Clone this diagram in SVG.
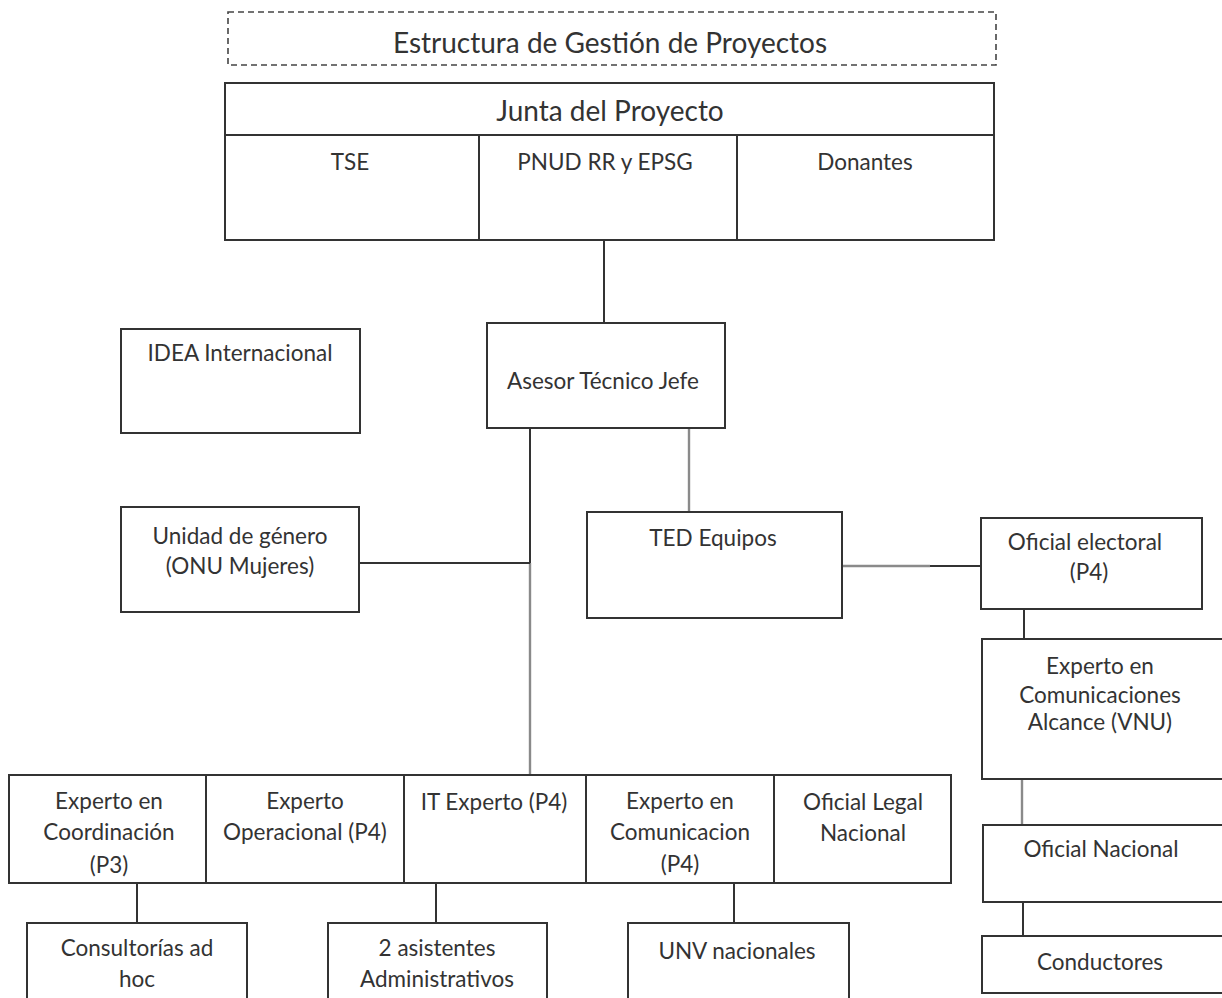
<svg xmlns="http://www.w3.org/2000/svg" width="1222" height="998" viewBox="0 0 1222 998">
<style>
.box{fill:#fff;stroke:#333;stroke-width:2}
.dash{fill:none;stroke:#444;stroke-width:1.6;stroke-dasharray:6 4}
.ln{stroke:#333;stroke-width:2;fill:none}
.gl{stroke:#8a8a8a;stroke-width:2.4;fill:none}
text{font-family:Lato,"Open Sans","Liberation Sans",sans-serif;font-size:22.5px;fill:#333;text-anchor:middle;dominant-baseline:central}
.t1{font-size:28px}
</style>
<rect width="1222" height="998" fill="#fff"/>
<g id="connectors">
<line class="ln" x1="604" y1="240" x2="604" y2="323"/>
<line class="ln" x1="530" y1="428" x2="530" y2="563"/>
<line class="gl" x1="530" y1="563" x2="530" y2="775"/>
<line class="ln" x1="359" y1="563" x2="530" y2="563"/>
<line class="gl" x1="689" y1="428" x2="689" y2="512"/>
<line class="gl" x1="842" y1="566" x2="930" y2="566"/>
<line class="ln" x1="930" y1="566" x2="981" y2="566"/>
<line class="ln" x1="1024" y1="597" x2="1024" y2="639"/>
<line class="gl" x1="1022" y1="779" x2="1022" y2="825"/>
<line class="ln" x1="1023" y1="902" x2="1023" y2="936"/>
<line class="ln" x1="137" y1="883" x2="137" y2="923"/>
<line class="ln" x1="436" y1="883" x2="436" y2="923"/>
<line class="ln" x1="734" y1="883" x2="734" y2="923"/>
</g>
<g id="title">
<rect class="dash" x="228" y="12" width="768" height="53"/>
<text class="t1" x="610" y="42">Estructura de Gestión de Proyectos</text>
</g>
<g id="junta">
<rect class="box" x="225" y="83" width="769" height="157"/>
<line class="ln" x1="225" y1="135" x2="994" y2="135"/>
<line class="ln" x1="479" y1="135" x2="479" y2="240"/>
<line class="ln" x1="737" y1="135" x2="737" y2="240"/>
<text class="t1" x="610" y="110">Junta del Proyecto</text>
<text x="350" y="161">TSE</text>
<text x="605" y="161">PNUD RR y EPSG</text>
<text x="865" y="161">Donantes</text>
</g>
<g id="asesor">
<rect class="box" x="487" y="323" width="238" height="105"/>
<text x="603" y="380">Asesor Técnico Jefe</text>
</g>
<g id="idea">
<rect class="box" x="121" y="329" width="239" height="104"/>
<text x="240" y="352">IDEA Internacional</text>
</g>
<g id="genero">
<rect class="box" x="121" y="507" width="238" height="105"/>
<text x="240" y="535">Unidad de género</text>
<text x="240" y="565">(ONU Mujeres)</text>
</g>
<g id="ted">
<rect class="box" x="587" y="512" width="255" height="106"/>
<text x="713" y="537">TED Equipos</text>
</g>
<g id="oficial-electoral">
<rect class="box" x="981" y="518" width="221" height="91"/>
<text x="1085" y="541">Oficial electoral</text>
<text x="1089" y="571">(P4)</text>
</g>
<g id="experto-comunicaciones">
<rect class="box" x="982" y="639" width="245" height="140"/>
<text x="1100" y="665">Experto en</text>
<text x="1100" y="694">Comunicaciones</text>
<text x="1100" y="721">Alcance (VNU)</text>
</g>
<g id="oficial-nacional">
<rect class="box" x="983" y="825" width="244" height="77"/>
<text x="1101" y="848">Oficial Nacional</text>
</g>
<g id="conductores">
<rect class="box" x="982" y="936" width="245" height="57"/>
<text x="1100" y="961">Conductores</text>
</g>
<g id="equipo">
<rect class="box" x="9" y="775" width="942" height="108"/>
<line class="ln" x1="206" y1="775" x2="206" y2="883"/>
<line class="ln" x1="404" y1="775" x2="404" y2="883"/>
<line class="ln" x1="586" y1="775" x2="586" y2="883" stroke-width="3"/>
<line class="ln" x1="774" y1="775" x2="774" y2="883"/>
</g>
<g id="coordinacion">
<text x="109" y="800">Experto en</text>
<text x="109" y="831">Coordinación</text>
<text x="109" y="864">(P3)</text>
</g>
<g id="operacional">
<text x="305" y="800">Experto</text>
<text x="305" y="831">Operacional (P4)</text>
</g>
<g id="it-experto">
<text x="494" y="801">IT Experto (P4)</text>
</g>
<g id="comunicacion">
<text x="680" y="800">Experto en</text>
<text x="680" y="831">Comunicacion</text>
<text x="680" y="863">(P4)</text>
</g>
<g id="legal">
<text x="863" y="801">Oficial Legal</text>
<text x="863" y="832">Nacional</text>
</g>
<g id="consultorias">
<rect class="box" x="27" y="923" width="220" height="90"/>
<text x="137" y="947">Consultorías ad</text>
<text x="137" y="978">hoc</text>
</g>
<g id="asistentes">
<rect class="box" x="328" y="923" width="219" height="90"/>
<text x="437" y="947">2 asistentes</text>
<text x="437" y="978">Administrativos</text>
</g>
<g id="unv">
<rect class="box" x="628" y="923" width="221" height="90"/>
<text x="737" y="950">UNV nacionales</text>
</g>
</svg>
